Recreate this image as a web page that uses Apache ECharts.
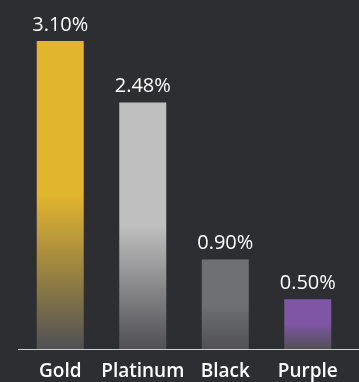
<!DOCTYPE html>
<html>
<head>
<meta charset="utf-8">
<script src="https://cdn.jsdelivr.net/npm/echarts@6/dist/echarts.min.js"></script>
<style>
  html, body { margin: 0; padding: 0; background: #2d2e32; }
  #chart { width: 359px; height: 382px; }
</style>
</head>
<body>
<div id="chart"></div>
<script>
// Card tiers and their rates (percent)
const tiers = ['Gold', 'Platinum', 'Black', 'Purple'];
const rates = [3.10, 2.48, 0.90, 0.50];
const tierColors = ['#e2b52e', '#bfbfbf', '#6f7074', '#7f56a6'];

const fadeTo = '#505055';

function barFill(top) {
  return new echarts.graphic.LinearGradient(0, 0, 0, 1, [
    { offset: 0, color: top },
    { offset: 0.5, color: top },
    { offset: 1, color: fadeTo }
  ]);
}

const chart = echarts.init(document.getElementById('chart'), null, { renderer: 'canvas' });

chart.setOption({
  backgroundColor: '#2d2e32',
  animation: false,
  grid: { left: 19, right: 10, top: 41, bottom: 33 },
  xAxis: {
    type: 'category',
    data: tiers,
    axisLine: { show: false },
    axisTick: { show: false },
    axisLabel: {
      interval: 0,
      hideOverlap: false,
      color: '#ffffff',
      fontFamily: 'Open Sans',
      fontSize: 19,
      fontWeight: 600,
      margin: 13
    }
  },
  yAxis: {
    type: 'value',
    min: 0,
    max: 3.1,
    show: false,
    splitLine: { show: false }
  },
  series: [{
    type: 'bar',
    barWidth: 47,
    data: rates.map((v, i) => ({
      value: v,
      itemStyle: { color: barFill(tierColors[i]) }
    })),
    label: {
      show: true,
      position: 'top',
      distance: 6,
      color: '#ffffff',
      fontFamily: 'Open Sans',
      fontSize: 20,
      formatter: p => p.value.toFixed(2) + '%'
    }
  }],
  graphic: [{
    type: 'line',
    shape: { x1: 18, y1: 349.5, x2: 359, y2: 349.5 },
    style: { stroke: '#cfcfcf', lineWidth: 1 }
  }]
});
</script>
</body>
</html>
